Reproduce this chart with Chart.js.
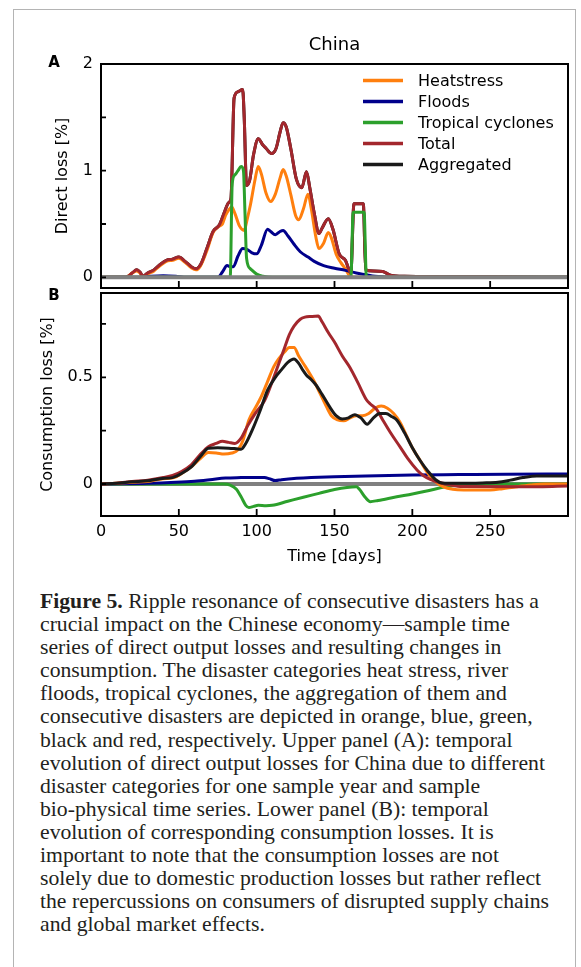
<!DOCTYPE html>
<html>
<head>
<meta charset="utf-8">
<script src="https://cdn.jsdelivr.net/npm/chart.js@4.4.0/dist/chart.umd.min.js"></script>
<style>
  body { margin: 0; background: #fff; width: 581px; height: 967px; overflow: hidden; position: relative; }
  #frame { position: absolute; left: 13px; top: 9px; width: 561px; height: 1000px; border: 1.5px solid #b4b4b4; border-bottom: none; }
  #wrapA { position: absolute; left: 0; top: 0; }
  #wrapB { position: absolute; left: 0; top: 270px; }
  #caption { position: absolute; left: 40px; top: 590px; font-family: 'Liberation Serif', serif; font-size: 21.7px; line-height: 23.1px; color: #231f20; white-space: nowrap; }
</style>
</head>
<body>
<div id="frame"></div>
<div id="wrapA"><canvas id="chartA" width="581" height="300"></canvas></div>
<div id="wrapB"><canvas id="chartB" width="581" height="318"></canvas></div>
<div id="caption">
  <div><b>Figure 5.</b> Ripple resonance of consecutive disasters has a</div>
  <div>crucial impact on the Chinese economy—sample time</div>
  <div>series of direct output losses and resulting changes in</div>
  <div>consumption. The disaster categories heat stress, river</div>
  <div>floods, tropical cyclones, the aggregation of them and</div>
  <div>consecutive disasters are depicted in orange, blue, green,</div>
  <div>black and red, respectively. Upper panel (A): temporal</div>
  <div>evolution of direct output losses for China due to different</div>
  <div>disaster categories for one sample year and sample</div>
  <div>bio-physical time series. Lower panel (B): temporal</div>
  <div>evolution of corresponding consumption losses. It is</div>
  <div>important to note that the consumption losses are not</div>
  <div>solely due to domestic production losses but rather reflect</div>
  <div>the repercussions on consumers of disrupted supply chains</div>
  <div>and global market effects.</div>
</div>
<script>
// ---- panel A: direct loss [%] ----
const heatA_days = [0, 16, 20, 23, 25, 27, 30, 34, 38, 42, 46, 50, 54, 58, 61, 64, 68, 72, 76, 78, 80, 82, 84, 86, 89, 92, 94, 96, 99, 101, 103, 106, 109, 112, 115, 117, 119, 122, 125, 127, 130, 133, 135, 138, 140, 143, 146, 148, 151, 154, 157, 160, 165, 300]
const heatA_vals = [0, 0, 0.04, 0.06, 0.04, 0.0, 0.03, 0.06, 0.11, 0.15, 0.16, 0.18, 0.14, 0.09, 0.07, 0.11, 0.25, 0.42, 0.48, 0.5, 0.58, 0.63, 0.66, 0.6, 0.48, 0.44, 0.55, 0.68, 0.92, 1.04, 0.97, 0.79, 0.71, 0.78, 0.93, 1.01, 0.95, 0.77, 0.58, 0.54, 0.64, 0.78, 0.65, 0.38, 0.27, 0.32, 0.42, 0.37, 0.22, 0.14, 0.08, 0.01, 0, 0]

const floodA_days = [0, 25, 32, 40, 48, 55, 75, 78, 81, 83, 85, 88, 91, 94, 97, 100, 103, 107, 109, 112, 115, 117, 120, 124, 128, 133, 137, 143, 150, 157, 164, 170, 176, 182, 190, 300]
const floodA_vals = [0, 0, 0.01, 0.015, 0.01, 0, 0, 0.05, 0.11, 0.1, 0.1, 0.2, 0.27, 0.26, 0.23, 0.22, 0.3, 0.45, 0.43, 0.4, 0.43, 0.44, 0.39, 0.31, 0.24, 0.19, 0.15, 0.11, 0.085, 0.065, 0.04, 0.025, 0.01, 0.004, 0, 0]

const cycloneA_days = [0, 83, 84.3, 86, 88, 90, 91.5, 92.5, 93.5, 96, 100, 104, 110, 160.5, 162, 169, 170.5, 300]
const cycloneA_vals = [0, 0, 0.88, 0.96, 1.0, 1.04, 1.0, 0.6, 0.18, 0.08, 0.03, 0.01, 0, 0, 0.61, 0.61, 0, 0]

const totalA_days = [0, 16, 20, 23, 25, 27, 30, 34, 38, 42, 46, 50, 54, 58, 61, 64, 68, 72, 76, 79, 82, 83.5, 85.5, 88, 91, 92, 93.5, 95.5, 98, 101, 104, 106, 109.5, 112.5, 115, 117, 119, 122, 125.5, 129, 132, 134, 137, 140, 142, 146, 149, 153, 157, 160.5, 162.5, 168.5, 170, 175, 181, 186, 195, 250, 300]
const totalA_vals = [0, 0, 0.04, 0.07, 0.05, 0.01, 0.04, 0.07, 0.12, 0.16, 0.17, 0.19, 0.15, 0.1, 0.08, 0.12, 0.27, 0.43, 0.49, 0.6, 0.7, 0.74, 1.68, 1.74, 1.76, 1.5, 0.86, 0.91, 1.15, 1.3, 1.24, 1.21, 1.16, 1.21, 1.36, 1.45, 1.41, 1.2, 0.92, 0.84, 0.99, 0.85, 0.6, 0.41, 0.46, 0.55, 0.45, 0.22, 0.16, 0.04, 0.69, 0.69, 0.07, 0.06, 0.055, 0.02, 0.01, 0.005, 0]

// ---- panel B: consumption loss [%] ----
const heatB_days = [0, 10, 20, 30, 40, 47, 52, 58, 64, 69, 74, 79, 84, 88, 91, 95, 99, 103, 107, 111, 114, 118, 121, 124, 127, 130, 133, 137, 141, 145, 148, 152, 156, 160, 164, 168, 172, 176, 180, 184, 188, 192, 196, 200, 205, 210, 215, 220, 226, 233, 250, 258, 265, 276, 285, 300]
const heatB_vals = [0, 0.003, 0.008, 0.012, 0.025, 0.03, 0.05, 0.08, 0.12, 0.147, 0.145, 0.14, 0.145, 0.16, 0.2, 0.3, 0.355, 0.41, 0.48, 0.55, 0.585, 0.62, 0.64, 0.64, 0.6, 0.565, 0.53, 0.48, 0.42, 0.36, 0.32, 0.3, 0.296, 0.31, 0.32, 0.32, 0.33, 0.355, 0.365, 0.355, 0.33, 0.29, 0.23, 0.17, 0.11, 0.05, 0.01, -0.013, -0.025, -0.028, -0.028, -0.022, -0.015, -0.005, 0, 0]

const floodB_days = [0, 30, 48, 60, 70, 80, 90, 100, 105, 108, 112, 116, 124, 135, 150, 170, 200, 230, 260, 300]
const floodB_vals = [0, 0.003, 0.008, 0.013, 0.02, 0.028, 0.03, 0.031, 0.03, 0.025, 0.016, 0.02, 0.026, 0.03, 0.034, 0.038, 0.042, 0.044, 0.046, 0.047]

const cycloneB_days = [0, 79, 83, 87, 90, 93, 95, 98, 101, 106, 110, 120, 130, 140, 150, 158, 164, 166, 170, 173, 178, 190, 200, 210, 218, 226, 236, 248, 300]
const cycloneB_vals = [0, 0, -0.005, -0.025, -0.06, -0.1, -0.11, -0.105, -0.1, -0.102, -0.1, -0.081, -0.062, -0.044, -0.026, -0.016, -0.013, -0.025, -0.065, -0.083, -0.077, -0.06, -0.047, -0.032, -0.018, -0.008, -0.002, 0, 0]

const totalB_days = [0, 10, 20, 30, 40, 46, 52, 58, 64, 69, 74, 78, 82, 86, 90, 94, 99, 105, 110, 114, 118, 121, 124, 128, 131, 135, 139.5, 142, 146, 150, 155, 160, 165, 170.5, 173, 177, 181, 186, 192, 197, 203, 207, 211.5, 218, 224, 232, 270, 300]
const totalB_vals = [0, 0.004, 0.012, 0.018, 0.03, 0.04, 0.06, 0.09, 0.14, 0.175, 0.19, 0.2, 0.195, 0.19, 0.215, 0.27, 0.33, 0.39, 0.48, 0.56, 0.64, 0.7, 0.74, 0.772, 0.782, 0.785, 0.787, 0.76, 0.71, 0.665, 0.6, 0.545, 0.475, 0.395, 0.375, 0.35, 0.3, 0.24, 0.175, 0.12, 0.066, 0.04, 0.022, 0.006, -0.004, -0.012, -0.013, -0.01]

const aggB_days = [0, 10, 20, 30, 38, 46, 52, 58, 64, 69, 75, 82, 87, 90, 93, 97, 102, 107, 112, 116, 120, 124, 127, 130, 132, 135, 138, 142, 147, 151, 155, 159, 163, 167, 171, 175, 179, 183, 187, 190, 195, 200, 205, 210, 215, 219, 230, 245, 255, 263, 271, 280, 300]
const aggB_vals = [0, 0.003, 0.01, 0.015, 0.025, 0.03, 0.05, 0.08, 0.13, 0.168, 0.17, 0.168, 0.165, 0.163, 0.19, 0.25, 0.34, 0.44, 0.5, 0.536, 0.57, 0.586, 0.565, 0.53, 0.51, 0.49, 0.465, 0.42, 0.36, 0.32, 0.305, 0.31, 0.325, 0.31, 0.28, 0.31, 0.33, 0.33, 0.315, 0.3, 0.24, 0.17, 0.11, 0.06, 0.02, 0.005, 0.003, 0.005, 0.008, 0.018, 0.03, 0.038, 0.038]

const zero_days = [0, 300]
const zero_vals = [0, 0]

const dayTicks = [0, 50, 100, 150, 200, 250]
const legendLabels = ['Heatstress', 'Floods', 'Tropical cyclones', 'Total', 'Aggregated']

const orange = '#ff7f0e'
const navy = '#00008b'
const green = '#2ca02c'
const brown = '#a3272d'
const black = '#1a1a1a'
const grey = '#808080'

Chart.defaults.font.family = "'DejaVu Sans', sans-serif"
Chart.defaults.font.size = 16
Chart.defaults.color = '#000'

const xy = (days, vals) => days.map((d, i) => ({ x: d, y: vals[i] }))

const series = (label, days, vals, color, width = 3) => ({
  label,
  data: xy(days, vals),
  borderColor: color,
  backgroundColor: color,
  borderWidth: width,
  pointRadius: 0,
  cubicInterpolationMode: 'monotone',
  borderJoinStyle: 'round',
  fill: false,
})

// box round the plot area, inward tick marks, panel letter, title, legend
const panelDecor = {
  id: 'panelDecor',
  afterDatasetsDraw(chart, args, opts) {
    const { ctx, chartArea: a, scales } = chart
    ctx.save()
    ctx.strokeStyle = '#000'
    ctx.lineWidth = 2
    ctx.strokeRect(a.left, a.top, a.right - a.left, a.bottom - a.top)
    ctx.lineWidth = 1.8
    ctx.beginPath()
    for (const t of scales.x.ticks) {
      const px = scales.x.getPixelForValue(t.value)
      ctx.moveTo(px, a.bottom)
      ctx.lineTo(px, a.bottom - 7)
    }
    for (const t of scales.y.ticks) {
      const py = scales.y.getPixelForValue(t.value)
      ctx.moveTo(a.left, py)
      ctx.lineTo(a.left + 5, py)
    }
    ctx.stroke()

    ctx.fillStyle = '#000'
    ctx.textBaseline = 'middle'
    ctx.textAlign = 'center'
    ctx.font = "bold 15px 'DejaVu Sans'"
    ctx.fillText(opts.letter, a.left - 47, a.top + opts.letterDy)

    if (opts.title) {
      ctx.font = "18px 'DejaVu Sans'"
      ctx.fillText(opts.title, (a.left + a.right) / 2, a.top - 19)
    }

    if (opts.legend) {
      ctx.textAlign = 'left'
      ctx.font = "16px 'DejaVu Sans'"
      ctx.lineWidth = 3.5
      opts.legend.forEach((name, i) => {
        const ds = chart.data.datasets.find(d => d.label === name)
        const y = a.top + 16.5 + i * 21
        ctx.strokeStyle = ds.borderColor
        ctx.beginPath()
        ctx.moveTo(a.right - 205, y)
        ctx.lineTo(a.right - 165, y)
        ctx.stroke()
        ctx.fillText(name, a.right - 150, y + 1)
      })
    }
    ctx.restore()
  },
}

const noPad = s => {
  s.paddingLeft = 0
  s.paddingRight = 0
  s.paddingTop = 0
  s.paddingBottom = 0
}

const setDayTicks = s => {
  s.ticks = dayTicks.map(v => ({ value: v }))
}

// panel A
new Chart(document.getElementById('chartA'), {
  type: 'line',
  data: {
    datasets: [
      series('zero', zero_days, zero_vals, grey, 4),
      series('Tropical cyclones', cycloneA_days, cycloneA_vals, green),
      series('Total', totalA_days, totalA_vals, brown),
      series('Floods', floodA_days, floodA_vals, navy),
      series('Heatstress', heatA_days, heatA_vals, orange),
      series('Aggregated', totalA_days, totalA_vals, black),
    ],
  },
  plugins: [panelDecor],
  options: {
    responsive: false,
    animation: false,
    devicePixelRatio: 1,
    layout: { padding: { top: 64, left: 0, right: 13, bottom: 0 } },
    plugins: {
      legend: { display: false },
      title: { display: false },
      tooltip: { enabled: false },
      panelDecor: { letter: 'A', letterDy: -1, title: 'China', legend: legendLabels },
    },
    scales: {
      x: {
        type: 'linear',
        min: 0,
        max: 300,
        grid: { display: false, drawTicks: false },
        border: { display: false },
        ticks: { display: false },
        afterBuildTicks: setDayTicks,
        afterFit: s => { noPad(s); s.height = 12 },
      },
      y: {
        min: -0.1,
        max: 2,
        grid: { display: false, drawTicks: false },
        border: { display: false },
        ticks: {
          stepSize: 0.5,
          includeBounds: false,
          padding: 8,
          callback: v => (Number.isInteger(v) ? String(v) : ''),
        },
        title: { display: true, text: 'Direct loss [%]', padding: { top: 53, bottom: 0 } },
        afterFit: s => { noPad(s); s.width = 101 },
      },
    },
  },
})

// panel B
new Chart(document.getElementById('chartB'), {
  type: 'line',
  data: {
    datasets: [
      series('Aggregated', aggB_days, aggB_vals, black),
      series('Total', totalB_days, totalB_vals, brown),
      series('Heatstress', heatB_days, heatB_vals, orange),
      series('Floods', floodB_days, floodB_vals, navy),
      series('Tropical cyclones', cycloneB_days, cycloneB_vals, green),
      series('zero', zero_days, zero_vals, grey, 4),
    ],
  },
  plugins: [panelDecor],
  options: {
    responsive: false,
    animation: false,
    devicePixelRatio: 1,
    layout: { padding: { top: 23, left: 0, right: 13, bottom: 0 } },
    plugins: {
      legend: { display: false },
      title: { display: false },
      tooltip: { enabled: false },
      panelDecor: { letter: 'B', letterDy: 3 },
    },
    scales: {
      x: {
        type: 'linear',
        min: 0,
        max: 300,
        grid: { display: false, drawTicks: false },
        border: { display: false },
        ticks: { padding: 6, maxRotation: 0, autoSkip: false },
        afterBuildTicks: setDayTicks,
        title: { display: true, text: 'Time [days]', padding: { top: 0, bottom: 21.7 } },
        afterFit: s => { noPad(s); s.height = 72 },
      },
      y: {
        min: -0.15,
        max: 0.895,
        grid: { display: false, drawTicks: false },
        border: { display: false },
        ticks: {
          stepSize: 0.25,
          includeBounds: false,
          padding: 8,
          callback: v => (v === 0 || v === 0.5 ? String(v) : ''),
        },
        title: { display: true, text: 'Consumption loss [%]', padding: { top: 38.4, bottom: 0 } },
        afterFit: s => { noPad(s); s.width = 101 },
      },
    },
  },
})
</script>
</body>
</html>
